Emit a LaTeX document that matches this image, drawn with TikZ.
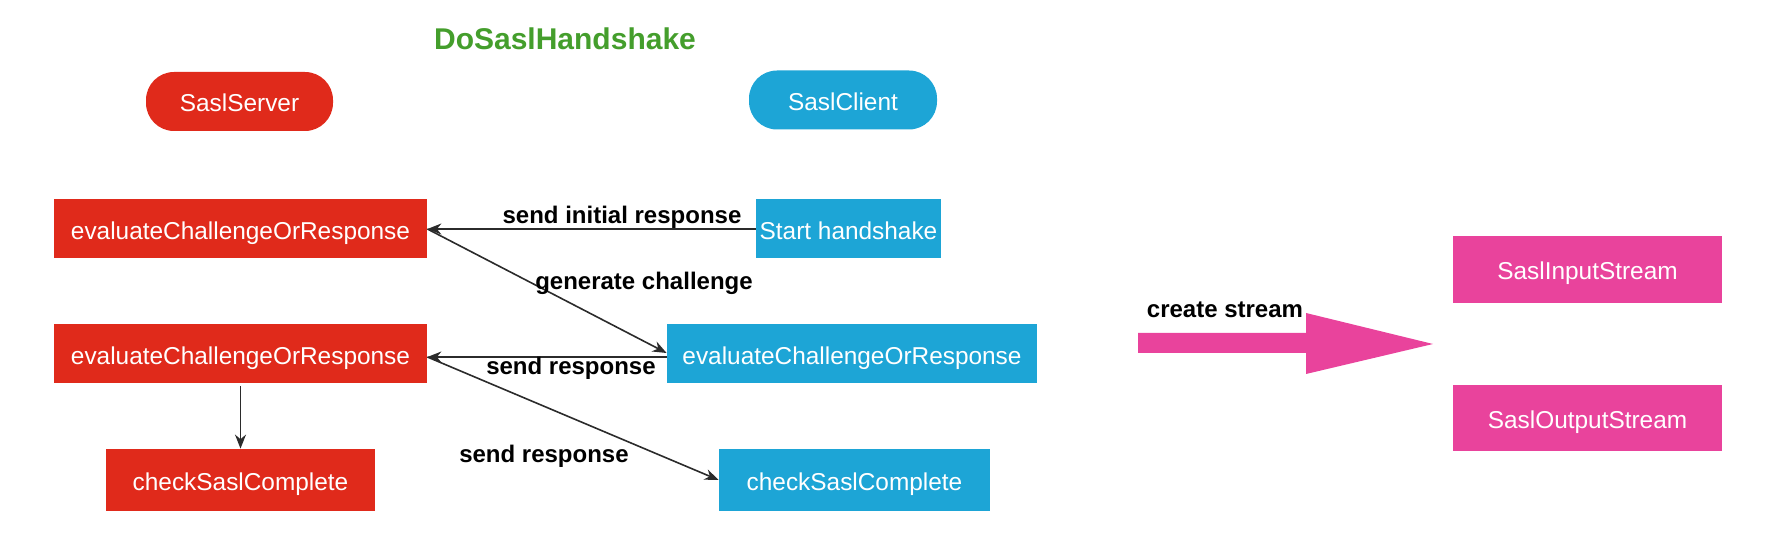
\documentclass[tikz,border=0pt]{standalone}
\usepackage{fontspec}
\setmainfont{Liberation Sans}
\usepackage{xcolor}
\usetikzlibrary{calc,arrows.meta}
\definecolor{srvred}{HTML}{E02A1B}
\definecolor{cliblue}{HTML}{1DA5D6}
\definecolor{strpink}{HTML}{E9439C}
\definecolor{ttlgreen}{HTML}{449E2C}
\definecolor{arrgray}{HTML}{2B2B2B}

\begin{document}
\begin{tikzpicture}[x=0.5pt,y=-0.5pt,
  box/.style={inner sep=0pt,text=white,font=\fontsize{12.2}{14}\selectfont,minimum height=29.5pt,text height=10.4pt,text depth=0pt},
  pill/.style={box,rounded corners=14pt},
  lbl/.style={font=\fontsize{12}{14}\selectfont\bfseries,inner sep=0pt},
  flow/.style={-{Stealth[length=7pt,width=5.5pt]},line width=0.8pt,arrgray}]
\useasboundingbox (0,0) rectangle (1768,560);
\node[font=\fontsize{15}{18}\selectfont\bfseries,text=ttlgreen] (title) at (565,39) {DoSaslHandshake};
% roles
\node[pill,fill=srvred,minimum width=93.5pt] (server) at (239.5,101.5) {SaslServer};
\node[pill,fill=cliblue,minimum width=94pt] (client) at (843,100) {SaslClient};
% server side
\node[box,fill=srvred,minimum width=186.5pt] (srvEvalA) at (240.5,229) {evaluateChallengeOrResponse};
\node[box,fill=srvred,minimum width=186.5pt] (srvEvalB) at (240.5,354) {evaluateChallengeOrResponse};
\node[box,fill=srvred,minimum width=134.5pt,minimum height=31pt] (srvCheck) at (240.5,480) {checkSaslComplete};
% client side
\node[box,fill=cliblue,minimum width=92.5pt] (start) at (848.5,229) {Start handshake};
\node[box,fill=cliblue,minimum width=185pt] (cliEval) at (852,354) {evaluateChallengeOrResponse};
\node[box,fill=cliblue,minimum width=135.5pt,minimum height=31pt] (cliCheck) at (854.5,480) {checkSaslComplete};
% streams
\node[box,fill=strpink,minimum width=134.5pt,minimum height=33.5pt] (inStream) at (1587.5,269.5) {SaslInputStream};
\node[box,fill=strpink,minimum width=134.5pt,minimum height=33pt] (outStream) at (1587.5,418) {SaslOutputStream};
% handshake messages
\draw[flow] (start.west) -- (srvEvalA.east);
\draw[flow] (srvEvalA.east) -- ([yshift=0.5pt]cliEval.west);
\draw[flow] ([yshift=-1.5pt]cliEval.west) -- ([yshift=-1.5pt]srvEvalB.east);
\draw[flow] ([yshift=-1.5pt]srvEvalB.east) -- (cliCheck.west);
\draw[flow] ([yshift=-1pt]srvEvalB.south) -- (srvCheck.north);
\node[lbl] (sendInit) at (622,217) {send initial response};
\node[lbl] (genChal) at (644,283) {generate challenge};
\node[lbl] (sendRespA) at (571,368) {send response};
\node[lbl] (sendRespB) at (544,456) {send response};
% create stream
\fill[strpink] (1138,333) -- (1306,333) -- (1306,313) -- (1433,344) -- (1306,374) -- (1306,353) -- (1138,353) -- cycle;
\node[lbl] (create) at (1225,310) {create stream};
\end{tikzpicture}
\end{document}
